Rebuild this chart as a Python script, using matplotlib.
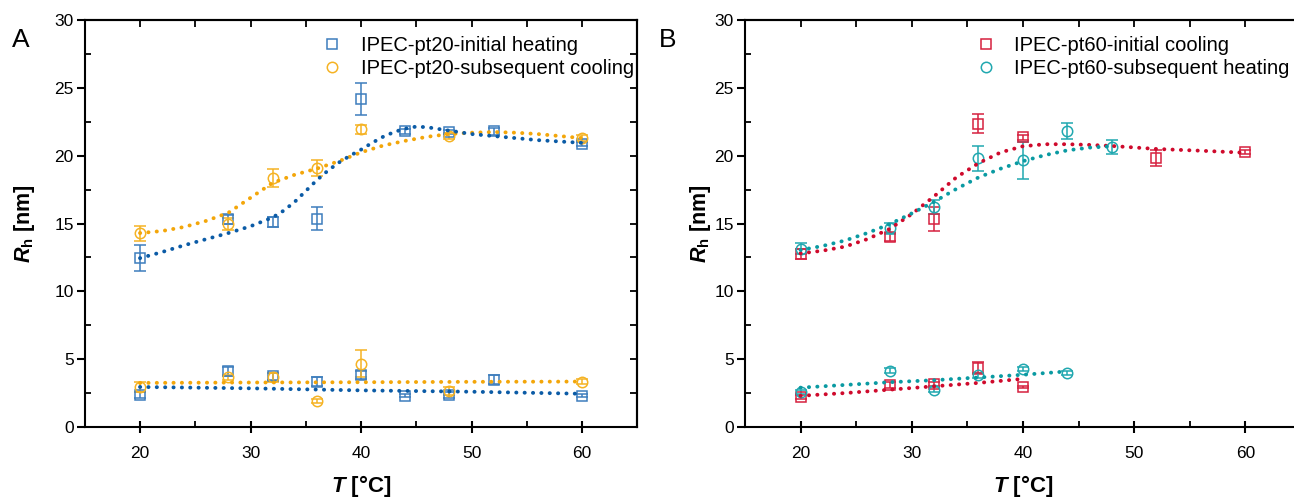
import matplotlib
matplotlib.use("Agg")
import matplotlib.pyplot as plt
from matplotlib.ticker import MultipleLocator

plt.rcParams['font.family'] = ['Liberation Sans', 'DejaVu Sans']
plt.rcParams['mathtext.fontset'] = 'custom'
plt.rcParams['mathtext.it'] = 'Liberation Sans:italic:bold'
plt.rcParams['mathtext.rm'] = 'Liberation Sans:bold'
plt.rcParams['mathtext.bf'] = 'Liberation Sans:bold'

# ---- panel A data: pt20 ----
a_heat_T = [20, 28, 32, 36, 40, 44, 48, 52, 60]
a_heat_hi = [12.45, 15.3, 15.1, 15.35, 24.2, 21.8, 21.75, 21.8, 20.9]
a_heat_hi_err = [0.95, 0.3, 0.35, 0.85, 1.2, 0.2, 0.15, 0.25, 0.15]
a_heat_lo = [2.35, 4.1, 3.75, 3.35, 3.85, 2.3, 2.35, 3.5, 2.3]
a_heat_lo_err = [0.2, 0.35, 0.25, 0.3, 0.3, 0.1, 0.2, 0.35, 0.1]

a_cool_T = [20, 28, 32, 36, 40, 48, 60]
a_cool_hi = [14.3, 14.95, 18.35, 19.1, 21.95, 21.45, 21.3]
a_cool_hi_err = [0.55, 0.45, 0.65, 0.6, 0.35, 0.2, 0.2]
a_cool_T_lo = [20, 28, 32, 36, 40, 48, 60]
a_cool_lo = [2.95, 3.65, 3.65, 1.95, 4.65, 2.65, 3.35]
a_cool_lo_err = [0.4, 0.2, 0.35, 0.15, 1.0, 0.3, 0.2]

# fitted curves
a_fit_heat_T = [20, 22, 24, 26, 28, 30, 32, 33, 34, 35, 36, 37, 38, 39, 40, 41, 42, 43, 44, 45, 46, 48, 50, 52, 54, 56, 58, 60]
a_fit_heat_hi = [12.45, 12.9, 13.4, 13.85, 14.3, 14.8, 15.45, 15.95, 16.6, 17.4, 18.2, 18.9, 19.5, 20.0, 20.45, 20.95, 21.4, 21.75, 22.0, 22.15, 22.1, 21.85, 21.6, 21.45, 21.3, 21.15, 21.05, 20.95]
a_fit_cool_T = [20, 22, 24, 26, 28, 30, 32, 34, 36, 38, 40, 42, 44, 46, 48, 50, 52, 54, 56, 58, 60]
a_fit_cool_hi = [14.3, 14.45, 14.75, 15.2, 15.8, 16.9, 18.0, 18.6, 19.05, 19.6, 20.25, 20.75, 21.1, 21.4, 21.6, 21.7, 21.75, 21.7, 21.6, 21.45, 21.3]
a_fit_lo_T = [20, 30, 40, 50, 60]
a_fit_heat_lo = [2.95, 2.85, 2.7, 2.6, 2.45]
a_fit_cool_lo = [3.25, 3.28, 3.3, 3.33, 3.35]

# ---- panel B data: pt60 ----
b_cool_T = [20, 28, 32, 36, 40, 52, 60]
b_cool_hi = [12.75, 14.0, 15.35, 22.35, 21.35, 19.85, 20.25]
b_cool_hi_err = [0.35, 0.3, 0.9, 0.7, 0.2, 0.6, 0.15]
b_cool_T_lo = [20, 28, 32, 36, 40]
b_cool_lo = [2.2, 3.1, 3.2, 4.35, 2.95]
b_cool_lo_err = [0.15, 0.2, 0.15, 0.45, 0.1]

b_heat_T = [20, 28, 32, 36, 40, 44, 48]
b_heat_hi = [13.15, 14.65, 16.2, 19.8, 19.65, 21.8, 20.65]
b_heat_hi_err = [0.4, 0.4, 0.5, 0.9, 1.4, 0.6, 0.5]
b_heat_T_lo = [20, 28, 32, 36, 40, 44]
b_heat_lo = [2.6, 4.15, 2.75, 3.8, 4.3, 3.95]
b_heat_lo_err = [0.15, 0.2, 0.2, 0.2, 0.15, 0.15]

b_fit_cool_T = [20, 22, 24, 26, 28, 30, 32, 34, 36, 38, 40, 42, 44, 46, 48, 52, 56, 60]
b_fit_cool_hi = [12.8, 13.0, 13.3, 13.85, 14.6, 15.7, 17.0, 18.4, 19.45, 20.25, 20.7, 20.85, 20.85, 20.8, 20.72, 20.5, 20.37, 20.22]
b_fit_heat_T = [20, 22, 24, 26, 28, 30, 32, 34, 36, 38, 40, 42, 44, 46, 48]
b_fit_heat_hi = [13.05, 13.35, 13.75, 14.3, 14.95, 15.75, 16.6, 17.55, 18.4, 19.05, 19.6, 20.05, 20.4, 20.6, 20.7]
b_fit_cool_lo_T = [20, 24, 28, 32, 36, 40]
b_fit_cool_lo = [2.3, 2.5, 2.75, 3.0, 3.25, 3.55]
b_fit_heat_lo_T = [20, 24, 28, 32, 36, 40, 44]
b_fit_heat_lo = [2.9, 3.1, 3.3, 3.45, 3.65, 3.85, 4.1]

labels_a = ['IPEC-pt20-initial heating', 'IPEC-pt20-subsequent cooling']
labels_b = ['IPEC-pt60-initial cooling', 'IPEC-pt60-subsequent heating']

c_blue, c_blue_fit = '#3d7dbd', '#0b5ba6'
c_orange, c_orange_fit = '#f5b324', '#f3a60a'
c_red, c_red_fit = '#d6213f', '#cf0a2c'
c_teal, c_teal_fit = '#21a8b0', '#0a9aa2'

DOT = dict(linestyle=(0, (0.05, 2.1)), lw=2.8, dash_capstyle='round', zorder=3)


def pts(ax, x, y, err, color, marker, label=None):
    ax.errorbar(x, y, yerr=err, fmt=marker, mfc='none', mec=color, ms=7.5 if marker == 'o' else 7,
                mew=1.1, ecolor=color, elinewidth=1.1, capsize=4, capthick=1.1, label=label, zorder=2)


def style(ax, ylab_x):
    ax.set_xlim(15, 65)
    ax.set_ylim(0, 30)
    ax.xaxis.set_major_locator(MultipleLocator(10))
    ax.xaxis.set_minor_locator(MultipleLocator(5))
    ax.yaxis.set_major_locator(MultipleLocator(5))
    ax.yaxis.set_minor_locator(MultipleLocator(2.5))
    ax.set_xticks([20, 30, 40, 50, 60])
    ax.tick_params(axis='x', which='major', direction='inout', length=9, width=1.5, labelsize=12.5, pad=9)
    ax.tick_params(axis='y', which='major', direction='out', length=6, width=1.5, labelsize=12.5, pad=2)
    ax.tick_params(which='minor', direction='in', length=4, width=1.3)
    for s in ax.spines.values():
        s.set_linewidth(1.5)
    top = ax.secondary_xaxis('top')
    top.xaxis.set_major_locator(MultipleLocator(5))
    top.tick_params(direction='in', length=5, width=1.3, labeltop=False)
    top.spines['top'].set_linewidth(1.5)
    right = ax.secondary_yaxis('right')
    right.yaxis.set_major_locator(MultipleLocator(2.5))
    right.tick_params(direction='in', length=5, width=1.3, labelright=False)
    right.spines['right'].set_linewidth(1.5)
    ax.set_xlabel(r'$T$ [°C]', fontsize=16, fontweight='bold')
    ax.xaxis.set_label_coords(0.5, -0.112)
    ax.set_ylabel(r'$R_{\rm h}$ [nm]', fontsize=15.5, fontweight='bold')
    ax.yaxis.set_label_coords(ylab_x, 0.5)


fig = plt.figure(figsize=(12.94, 4.98), dpi=100)
axA = fig.add_axes([0.0655, 0.1426, 0.427, 0.817])
axB = fig.add_axes([0.5757, 0.1426, 0.4297, 0.817])

# panel A
pts(axA, a_heat_T, a_heat_hi, a_heat_hi_err, c_blue, 's', labels_a[0])
pts(axA, a_heat_T, a_heat_lo, a_heat_lo_err, c_blue, 's')
pts(axA, a_cool_T, a_cool_hi, a_cool_hi_err, c_orange, 'o', labels_a[1])
pts(axA, a_cool_T_lo, a_cool_lo, a_cool_lo_err, c_orange, 'o')
axA.plot(a_fit_cool_T, a_fit_cool_hi, color=c_orange_fit, **DOT)
axA.plot(a_fit_lo_T, a_fit_cool_lo, color=c_orange_fit, **DOT)
axA.plot(a_fit_heat_T, a_fit_heat_hi, color=c_blue_fit, **DOT)
axA.plot(a_fit_lo_T, a_fit_heat_lo, color=c_blue_fit, **DOT)
style(axA, -0.087)

# panel B
pts(axB, b_cool_T, b_cool_hi, b_cool_hi_err, c_red, 's', labels_b[0])
pts(axB, b_cool_T_lo, b_cool_lo, b_cool_lo_err, c_red, 's')
pts(axB, b_heat_T, b_heat_hi, b_heat_hi_err, c_teal, 'o', labels_b[1])
pts(axB, b_heat_T_lo, b_heat_lo, b_heat_lo_err, c_teal, 'o')
axB.plot(b_fit_cool_T, b_fit_cool_hi, color=c_red_fit, **DOT)
axB.plot(b_fit_cool_lo_T, b_fit_cool_lo, color=c_red_fit, **DOT)
axB.plot(b_fit_heat_T, b_fit_heat_hi, color=c_teal_fit, **DOT)
axB.plot(b_fit_heat_lo_T, b_fit_heat_lo, color=c_teal_fit, **DOT)
style(axB, -0.058)

for ax, x0 in [(axA, 0.43), (axB, 0.415)]:
    h, l = ax.get_legend_handles_labels()
    h = [hh[0] for hh in h]
    ax.legend(h, l, loc='upper left', bbox_to_anchor=(x0, 0.96), frameon=False, fontsize=14.5,
              handlelength=1.0, handletextpad=0.9, borderpad=0, labelspacing=0.2, borderaxespad=0)

fig.text(0.009, 0.905, 'A', fontsize=19)
fig.text(0.509, 0.905, 'B', fontsize=19)

fig.savefig('out.png', dpi=100)
